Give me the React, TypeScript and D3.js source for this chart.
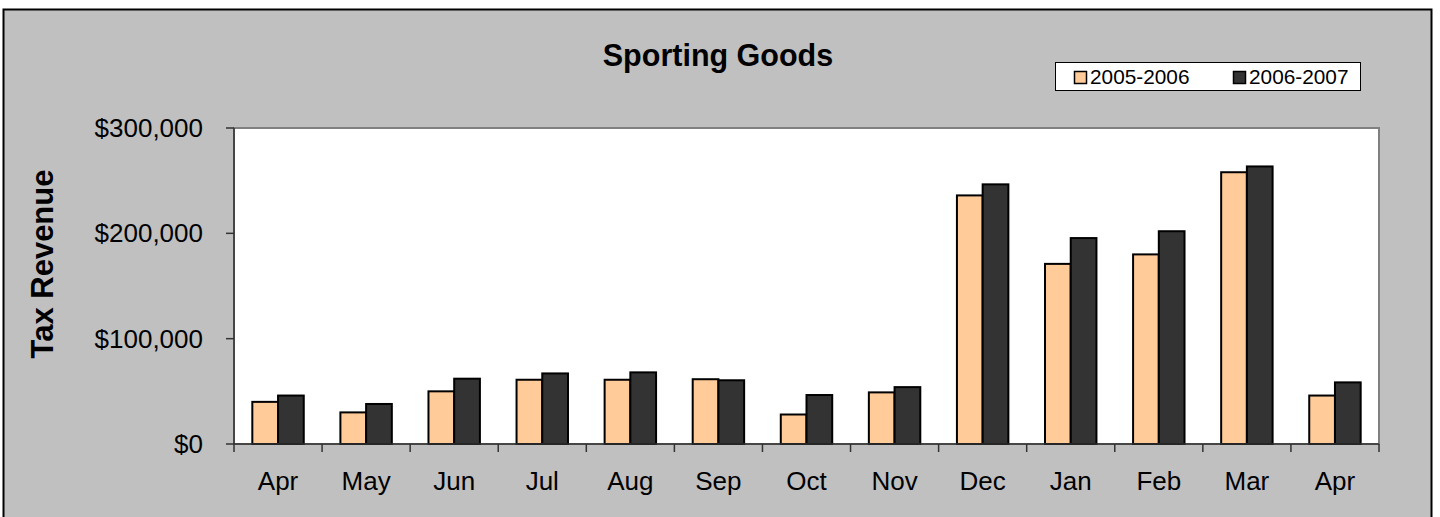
import React from "react";
import * as d3 from "d3";

const months = ["Apr", "May", "Jun", "Jul", "Aug", "Sep", "Oct", "Nov", "Dec", "Jan", "Feb", "Mar", "Apr"];
const series = ["2005-2006", "2006-2007"];
const values2005 = [40000, 30000, 50000, 61000, 61000, 61500, 28000, 49000, 236000, 171000, 180000, 258000, 46000];
const values2006 = [46000, 38000, 62000, 67000, 68000, 60500, 46500, 54000, 246500, 195500, 202000, 263500, 58500];
const yTicks = [0, 100000, 200000, 300000];
const colors = ["#FFCC99", "#333333"];

export default function App() {
  const W = 1440, H = 517;
  const left = 234, right = 1379, top = 128, bottom = 444;
  const font = "'Liberation Sans', Arial, sans-serif";

  const x = d3.scaleBand<number>()
    .domain(months.map((_, i) => i))
    .range([left, right])
    .paddingInner(0.416)
    .paddingOuter(0.208);
  const xs = d3.scaleBand<string>().domain(series).range([0, x.bandwidth()]);
  const y = d3.scaleLinear().domain([0, 300000]).range([bottom, top]);
  const step = x.step();
  const fmt = (v: number) => "$" + d3.format(",")(v);
  const data = [values2005, values2006];

  return (
    <svg width={W} height={H} style={{ position: "absolute", left: 0, top: 0, display: "block" }} fontFamily={font}>
      <rect x={0} y={0} width={W} height={H} fill="#ffffff" />
      <rect x={3.5} y={9.5} width={1428} height={530} fill="#C0C0C0" stroke="#000" strokeWidth={2} />
      <text x={718} y={66} textAnchor="middle" fontSize={30.5} fontWeight="bold" fill="#000">Sporting Goods</text>

      {/* legend */}
      <rect x={1055.5} y={62.5} width={305} height={28} fill="#fff" stroke="#000" strokeWidth={1} />
      {series.map((s, i) => {
        const lx = i === 0 ? 1074 : 1233;
        return (
          <g key={s}>
            <rect x={lx + 0.5} y={71.5} width={12} height={12} fill={colors[i]} stroke="#000" strokeWidth={1.5} />
            <text x={lx + 16} y={84} fontSize={20.8} fill="#000">{s}</text>
          </g>
        );
      })}

      {/* plot area */}
      <rect x={left} y={top} width={right - left} height={bottom - top} fill="#fff" stroke="#808080" strokeWidth={2} />

      {/* bars */}
      {data.map((vals, si) =>
        vals.map((v, i) => (
          <rect
            key={si + "-" + i}
            x={(x(i) as number) + (xs(series[si]) as number)}
            y={y(v)}
            width={xs.bandwidth()}
            height={bottom - y(v)}
            fill={colors[si]}
            stroke="#000"
            strokeWidth={2}
          />
        ))
      )}

      {/* axes */}
      <line x1={left} x2={left} y1={top} y2={bottom} stroke="#333" strokeWidth={1.5} />
      <line x1={left} x2={right} y1={bottom} y2={bottom} stroke="#333" strokeWidth={1.5} />
      {yTicks.map((t) => (
        <g key={t}>
          <line x1={left - 8} x2={left} y1={y(t)} y2={y(t)} stroke="#333" strokeWidth={1.5} />
          <text x={203} y={y(t)} dy="0.35em" textAnchor="end" fontSize={26} fill="#000">{fmt(t)}</text>
        </g>
      ))}
      {d3.range(months.length + 1).map((i) => (
        <line key={i} x1={left + i * step} x2={left + i * step} y1={bottom} y2={bottom + 8} stroke="#333" strokeWidth={1.5} />
      ))}
      {months.map((m, i) => (
        <text key={i} x={(x(i) as number) + x.bandwidth() / 2} y={490} textAnchor="middle" fontSize={26} fill="#000">{m}</text>
      ))}

      <text transform={`translate(53,264) rotate(-90)`} textAnchor="middle" fontSize={31} fontWeight="bold" fill="#000">Tax Revenue</text>
    </svg>
  );
}
